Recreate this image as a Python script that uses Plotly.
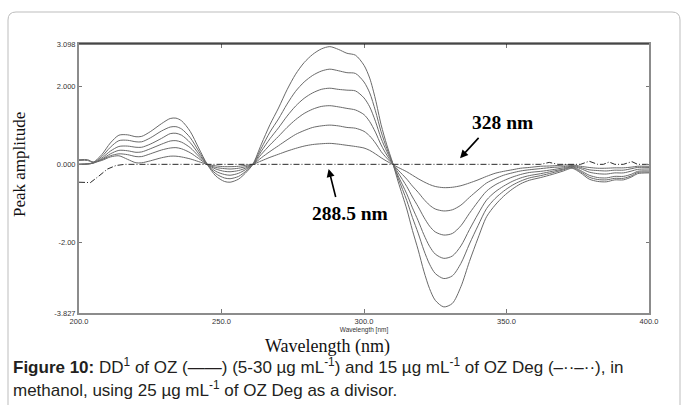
import plotly.graph_objects as go

# Wavelength grid (nm) for the first-derivative ratio spectra of OZ
wavelength = [200, 203, 205, 208, 211, 214, 217, 220, 222, 225, 229, 232, 234, 236, 239,
              242, 245, 248, 251, 253, 256, 259, 261, 264, 267, 270, 273, 276, 279, 282,
              285, 288, 291, 294, 297, 300, 302, 304, 306, 308, 310, 312, 315, 317, 319,
              321, 323, 325, 328, 331, 334, 337, 340, 343, 346, 349, 352, 355, 358, 362,
              366, 370, 373, 376, 379, 382, 385, 388, 391, 394, 396, 400]

# Peak amplitude of DD1 spectra, OZ 5, 10, 15, 20, 25, 30 ug/mL
oz_5 = [0.10, 0.10, 0.05, 0.10, 0.19, 0.22, 0.13, 0.04, 0.04, 0.09, 0.17, 0.21, 0.21, 0.19, 0.14,
        0.07, 0.00, -0.04, -0.06, -0.06, -0.05, -0.02, 0.00, 0.09, 0.18, 0.26, 0.34, 0.41, 0.47, 0.51,
        0.53, 0.54, 0.52, 0.49, 0.46, 0.42, 0.36, 0.27, 0.17, 0.08, 0.00, -0.08, -0.19, -0.28, -0.37,
        -0.45, -0.52, -0.57, -0.60, -0.59, -0.55, -0.48, -0.40, -0.31, -0.23, -0.18, -0.14, -0.10, -0.08, -0.05,
        -0.04, -0.02, -0.01, -0.05, -0.08, -0.10, -0.10, -0.09, -0.09, -0.07, -0.05, -0.05]
oz_10 = [0.12, 0.12, 0.06, 0.12, 0.22, 0.27, 0.25, 0.20, 0.20, 0.27, 0.37, 0.42, 0.43, 0.40, 0.30,
         0.15, 0.00, -0.08, -0.11, -0.12, -0.10, -0.05, 0.00, 0.17, 0.33, 0.48, 0.63, 0.77, 0.87, 0.95,
         0.99, 1.01, 0.99, 0.95, 0.93, 0.85, 0.73, 0.55, 0.33, 0.16, 0.01, -0.15, -0.38, -0.56, -0.72,
         -0.90, -1.05, -1.15, -1.20, -1.17, -1.05, -0.85, -0.66, -0.48, -0.37, -0.28, -0.22, -0.17, -0.14, -0.11,
         -0.08, -0.06, -0.03, -0.08, -0.14, -0.16, -0.17, -0.15, -0.15, -0.11, -0.08, -0.08]
oz_15 = [0.00, 0.01, 0.03, 0.13, 0.27, 0.36, 0.35, 0.31, 0.32, 0.40, 0.52, 0.60, 0.61, 0.57, 0.43,
         0.21, 0.00, -0.12, -0.18, -0.19, -0.16, -0.08, 0.00, 0.26, 0.50, 0.72, 0.95, 1.15, 1.31, 1.42,
         1.49, 1.51, 1.48, 1.44, 1.40, 1.28, 1.10, 0.83, 0.50, 0.24, 0.02, -0.22, -0.57, -0.84, -1.09,
         -1.36, -1.59, -1.74, -1.82, -1.78, -1.58, -1.26, -0.96, -0.69, -0.53, -0.42, -0.33, -0.26, -0.21, -0.18,
         -0.14, -0.09, -0.05, -0.11, -0.20, -0.24, -0.25, -0.22, -0.22, -0.17, -0.13, -0.12]
oz_20 = [0.00, 0.01, 0.03, 0.16, 0.34, 0.46, 0.47, 0.44, 0.44, 0.52, 0.67, 0.79, 0.80, 0.75, 0.56,
         0.27, 0.00, -0.18, -0.26, -0.28, -0.23, -0.11, 0.00, 0.34, 0.66, 0.94, 1.24, 1.50, 1.70, 1.84,
         1.93, 1.96, 1.93, 1.91, 1.89, 1.71, 1.48, 1.11, 0.67, 0.33, 0.03, -0.30, -0.76, -1.12, -1.45,
         -1.81, -2.11, -2.31, -2.42, -2.36, -2.10, -1.68, -1.28, -0.92, -0.71, -0.56, -0.44, -0.35, -0.29, -0.24,
         -0.18, -0.12, -0.06, -0.16, -0.28, -0.34, -0.35, -0.31, -0.31, -0.25, -0.18, -0.17]
oz_25 = [0.00, 0.01, 0.04, 0.20, 0.44, 0.61, 0.62, 0.58, 0.58, 0.68, 0.86, 0.96, 0.97, 0.91, 0.69,
         0.34, 0.00, -0.24, -0.35, -0.37, -0.31, -0.15, 0.00, 0.42, 0.83, 1.17, 1.55, 1.88, 2.12, 2.29,
         2.40, 2.45, 2.41, 2.36, 2.34, 2.12, 1.84, 1.38, 0.84, 0.41, 0.04, -0.36, -0.93, -1.37, -1.77,
         -2.21, -2.57, -2.81, -2.94, -2.87, -2.55, -2.05, -1.58, -1.14, -0.88, -0.69, -0.54, -0.43, -0.35, -0.29,
         -0.22, -0.14, -0.08, -0.19, -0.33, -0.39, -0.40, -0.36, -0.36, -0.29, -0.21, -0.20]
oz_30 = [0.00, 0.01, 0.05, 0.25, 0.55, 0.75, 0.76, 0.71, 0.72, 0.84, 1.05, 1.18, 1.19, 1.12, 0.85,
         0.42, 0.00, -0.30, -0.44, -0.46, -0.38, -0.18, 0.00, 0.52, 1.02, 1.45, 1.92, 2.32, 2.62, 2.83,
         2.97, 3.03, 2.96, 2.86, 2.81, 2.55, 2.22, 1.68, 1.02, 0.50, 0.05, -0.45, -1.15, -1.70, -2.20,
         -2.75, -3.20, -3.50, -3.67, -3.58, -3.15, -2.50, -1.90, -1.35, -1.05, -0.82, -0.64, -0.50, -0.41, -0.34,
         -0.26, -0.17, -0.10, -0.22, -0.38, -0.44, -0.45, -0.40, -0.40, -0.32, -0.24, -0.22]
oz_series = [oz_5, oz_10, oz_15, oz_20, oz_25, oz_30]

# OZ Deg (15 ug/mL) ratio spectrum
deg_wavelength = [200, 204, 207, 210, 213, 216, 240, 280, 320, 355, 362, 365, 368, 376, 379,
                  382, 384, 386, 388, 391, 394, 396, 400]
oz_deg = [-0.46, -0.47, -0.30, -0.12, -0.03, 0.00, 0.00, 0.00, 0.00, 0.00, 0.00, 0.05, 0.00, 0.00, 0.08,
          0.00, 0.00, 0.06, 0.00, 0.00, 0.07, 0.00, 0.00]

x_ticks = [200, 250, 300, 350, 400]
x_ticktext = ["200.0", "250.0", "300.0", "350.0", "400.0"]
y_ticks = [-3.827, -2.0, 0.0, 2.0, 3.098]
y_ticktext = ["-3.827", "-2.00", "0.000", "2.000", "3.098"]

for s in oz_series:
    if len(s) != len(wavelength):
        raise ValueError("series length mismatch")

W, H = 681, 405
L, R, T, B = 79, 649, 44, 313


def px(x):
    return (x - L) / (R - L)


def py(y):
    return (B - y) / (B - T)


fig = go.Figure()
for s in oz_series:
    fig.add_trace(go.Scatter(x=wavelength, y=s, mode="lines",
                             line=dict(color="#6a6a6a", width=1, shape="spline", smoothing=0.8),
                             showlegend=False, hoverinfo="skip"))
fig.add_trace(go.Scatter(x=deg_wavelength, y=oz_deg, mode="lines",
                         line=dict(color="#2a2a2a", width=1, dash="6px,2px,1px,2px"),
                         showlegend=False, hoverinfo="skip"))

serif = "Liberation Serif, Times New Roman, serif"
sans = "Liberation Sans, Arial, sans-serif"

fig.update_layout(
    width=W, height=H,
    margin=dict(l=L, r=W - R, t=T, b=H - B),
    paper_bgcolor="white", plot_bgcolor="white",
    xaxis=dict(range=[200, 400], tickvals=x_ticks, ticktext=x_ticktext,
               ticks="inside", ticklen=4, tickcolor="#777", tickwidth=1,
               showline=True, linecolor="#8c8c8c", linewidth=1.5, mirror="ticks",
               showgrid=False, zeroline=False,
               tickfont=dict(family=sans, size=7.5, color="#333"),
               title=dict(text="Wavelength [nm]", font=dict(family=sans, size=6.5, color="#333"),
                          standoff=0)),
    yaxis=dict(range=[-3.827, 3.098], tickvals=y_ticks, ticktext=y_ticktext,
               ticks="inside", ticklen=3, tickcolor="#777", tickwidth=1,
               showline=True, linecolor="#8c8c8c", linewidth=2, mirror="ticks",
               showgrid=False, zeroline=False,
               tickfont=dict(family=sans, size=7.5, color="#333")),
)

# outer rounded panel frame and the black top border of the plot box
frame = (f"M {px(8)},{py(410)} L {px(8)},{py(20)} Q {px(8)},{py(12)} {px(16)},{py(12)} "
         f"L {px(672)},{py(12)} Q {px(680)},{py(12)} {px(680)},{py(20)} L {px(680)},{py(410)}")
fig.add_shape(type="path", path=frame, xref="paper", yref="paper",
              line=dict(color="#bdbdbd", width=1))
fig.add_shape(type="line", x0=0, x1=1, y0=1, y1=1, xref="paper", yref="paper",
              line=dict(color="black", width=1.2))


def label(text, x, y, font, **kw):
    fig.add_annotation(text=text, x=px(x), y=py(y), xref="paper", yref="paper",
                       xanchor=kw.pop("xanchor", "center"), yanchor="middle",
                       showarrow=False, font=font, **kw)


label("Peak amplitude", 19, 165, dict(family=serif, size=17, color="#111"), textangle=-90)
label("Wavelength (nm)", 327, 346, dict(family=serif, size=18, color="#111"))
label("<b>Figure 10:</b> DD<sup>1</sup> of OZ (——) (5-30 µg mL<sup>-1</sup>) and 15 µg mL<sup>-1</sup> "
      "of OZ Deg (–··–··), in", 11, 366, dict(family=sans, size=17, color="#231f20"), xanchor="left")
label("methanol, using 25 µg mL<sup>-1</sup> of OZ Deg as a divisor.", 11, 389,
      dict(family=sans, size=17, color="#231f20"), xanchor="left")

# wavelength markers
label("<b>328 nm</b>", 502, 122, dict(family=serif, size=19.5, color="black"))
fig.add_annotation(text="", x=333.7, y=0.16, ax=340.7, ay=0.72, xref="x", yref="y",
                   axref="x", ayref="y", showarrow=True, arrowhead=2, arrowsize=1,
                   arrowwidth=1.6, arrowcolor="black")
label("<b>288.5 nm</b>", 350, 213, dict(family=serif, size=19.5, color="black"))
fig.add_annotation(text="", x=287.6, y=-0.12, ax=290.2, ay=-0.88, xref="x", yref="y",
                   axref="x", ayref="y", showarrow=True, arrowhead=2, arrowsize=1,
                   arrowwidth=1.6, arrowcolor="black")

fig.write_html("out.html")
